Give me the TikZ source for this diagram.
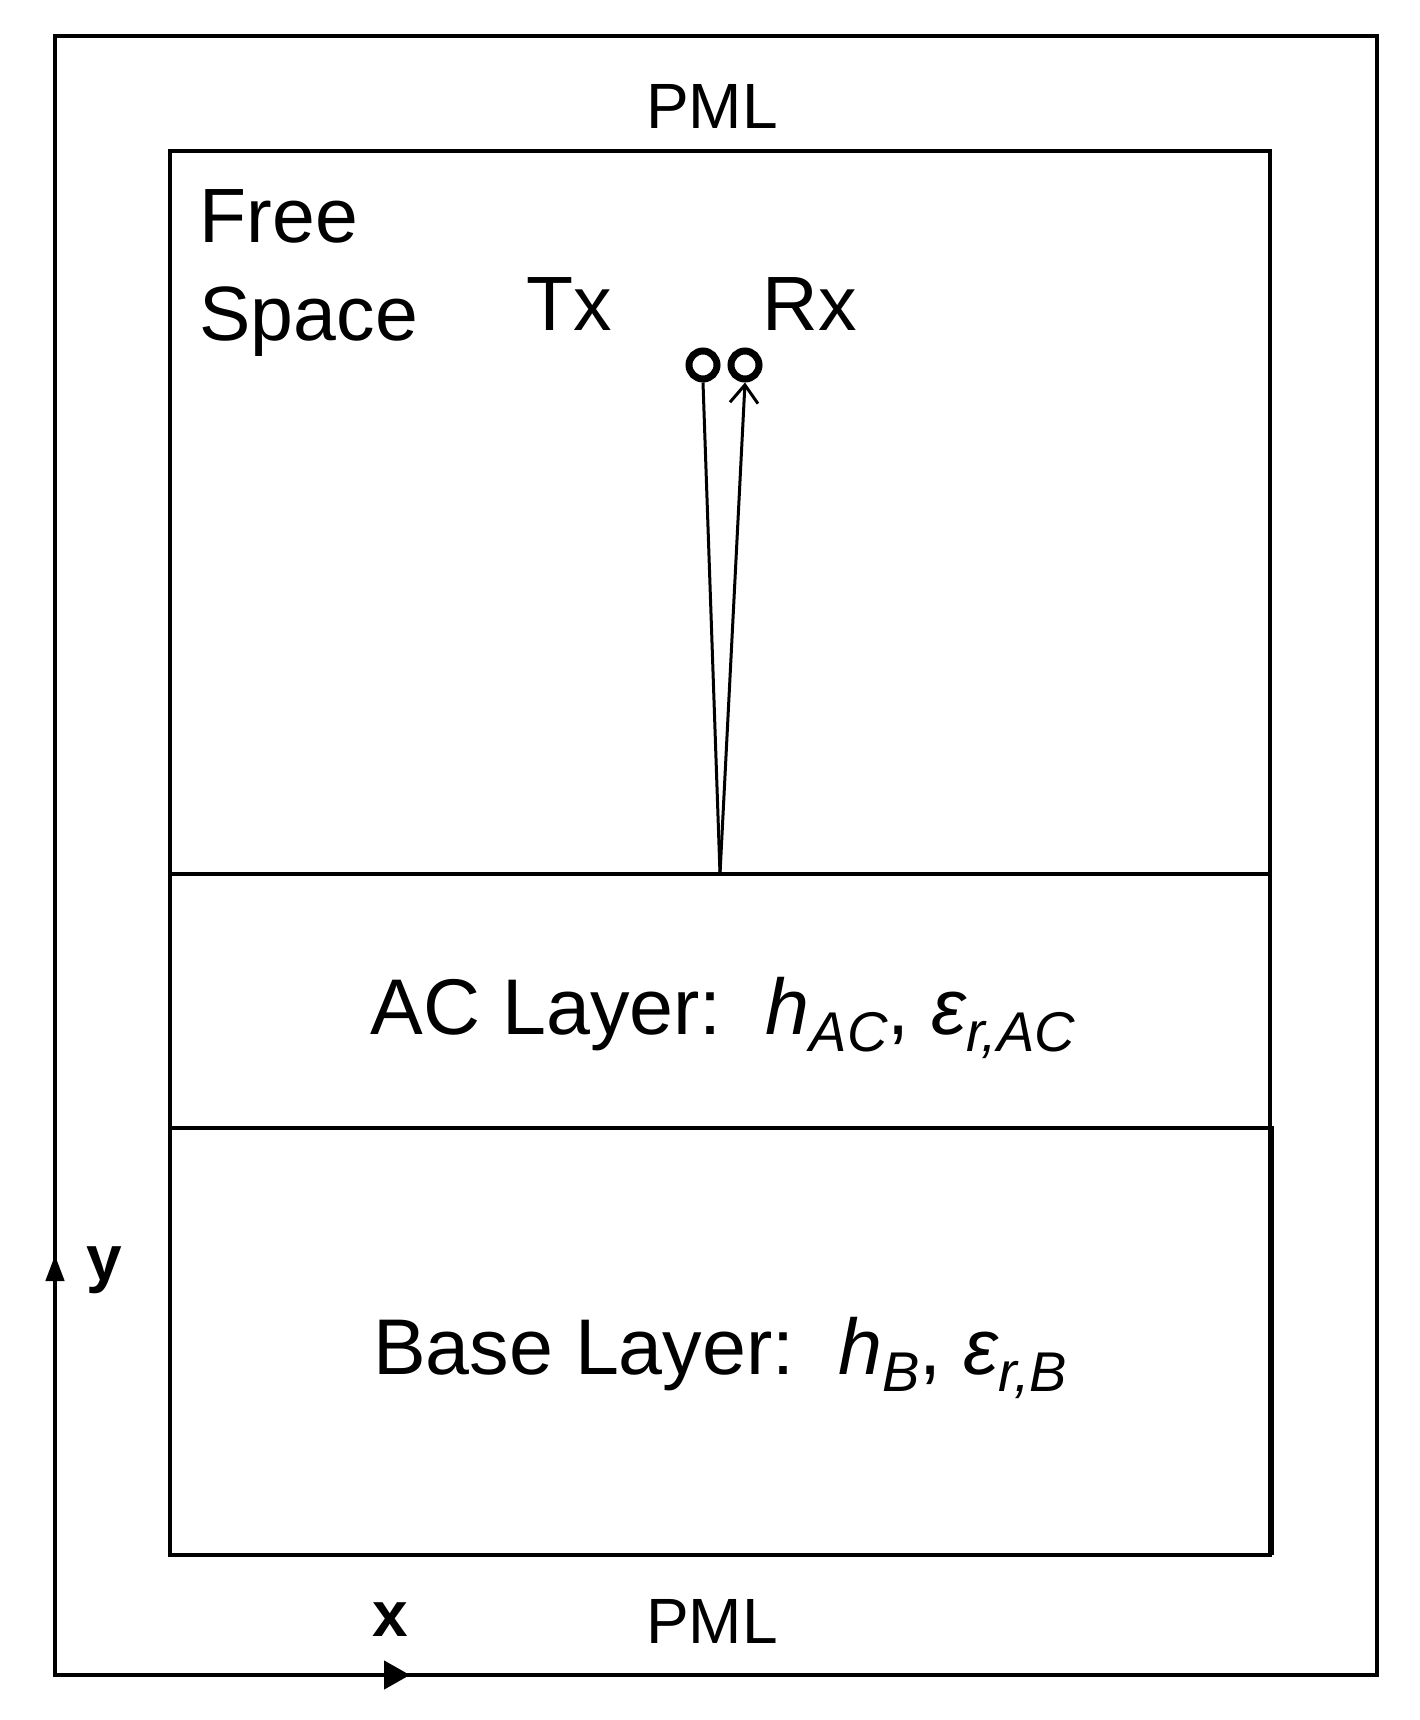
\documentclass[tikz,border=0pt]{standalone}
\usepackage{fontspec}
\setmainfont{Liberation Sans}
\usetikzlibrary{arrows.meta}
\newcommand{\sbs}[1]{\raisebox{-0.22em}{\fontsize{56}{60}\selectfont #1}}
\begin{document}
\begin{tikzpicture}[x=1pt,y=-1pt,line width=3.2pt,
  lbl/.style={inner sep=0pt,anchor=center},
  ant/.style={circle,draw,line width=7pt,minimum size=28pt,inner sep=0pt}]
\useasboundingbox (0,0) rectangle (1420,1720);
\coordinate (o) at (55,1675);
\coordinate (oy) at (55,1255);
\coordinate (ox) at (410,1675);
\draw (55,36) rectangle (1377,1675);
\draw[line width=4.5pt,-{Triangle[length=26pt,width=28pt]}] (o) -- (ox);
\draw[line width=4.5pt,-{Triangle[length=26pt,width=18pt]}] (o) -- (oy);
\draw (170,151) rectangle (1270,1555);
\draw (170,874) -- (1270,874);
\draw[line width=4pt] (170,1128) -- (1272,1128) -- (1272,1555);
\node[lbl,font=\fontsize{64}{70}\selectfont] at (712,106) {PML};
\node[lbl,font=\fontsize{64}{70}\selectfont] at (712,1621) {PML};
\node[lbl,anchor=west,align=left,font=\fontsize{77}{98}\selectfont] at (198,273) {Free\\Space};
\node[lbl,font=\fontsize{77}{90}\selectfont] at (569,304) {Tx};
\node[lbl,font=\fontsize{77}{90}\selectfont] at (810,304) {Rx};
\node[ant] (tx) at (703,365) {};
\node[ant] (rx) at (745,365) {};
\coordinate (g) at (720,874);
\draw[line width=3pt] (tx.south) -- (g);
\draw[line width=3pt,-{Straight Barb[length=18pt,width=28pt]}] (g) -- (rx.south);
\node[lbl,font=\fontsize{79}{90}\selectfont] at (723,1018) {AC Layer:\ \ \textit{h\sbs{AC}}, \textit{ε\sbs{r,AC}}};
\node[lbl,font=\fontsize{79}{90}\selectfont] at (720,1358) {Base Layer:\ \ \textit{h\sbs{B}}, \textit{ε\sbs{r,B}}};
\node[lbl,font=\bfseries\fontsize{64}{70}\selectfont] at (390,1620) {x};
\node[lbl,font=\bfseries\fontsize{64}{70}\selectfont] at (104,1270) {y};
\end{tikzpicture}
\end{document}
